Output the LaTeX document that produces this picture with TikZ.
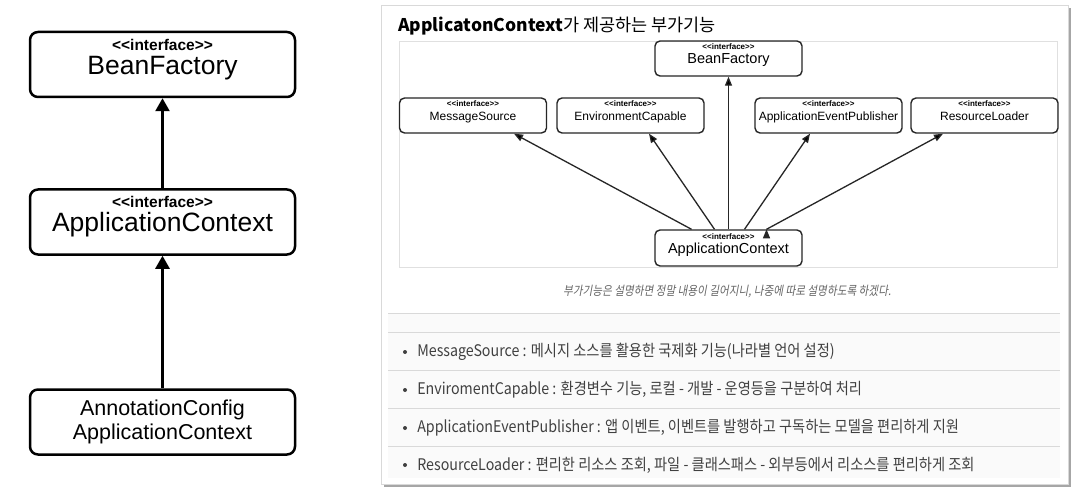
\documentclass[tikz,border=0pt]{standalone}
\usepackage{fontspec}
\setmainfont{Liberation Sans}
\newfontfamily\uml{Liberation Sans}
\newfontfamily\kr{Noto Sans CJK KR}
\newfontfamily\krn[FakeStretch=0.89]{Noto Sans CJK KR}
\newfontfamily\krit[FakeStretch=0.85,FakeSlant=0.18]{Noto Sans CJK KR}
\usetikzlibrary{arrows.meta, positioning, calc}
\newcommand{\fsz}[1]{\fontsize{#1}{#1}\selectfont}

\begin{document}
\begin{tikzpicture}[x=1pt,y=-1pt,semithick]
		\tikzstyle{bigbox}=[draw=black,line width=2.5pt,rounded corners=8pt,minimum width=265pt,minimum height=65pt,align=center,inner sep=0pt,font={\uml\fontsize{10}{24}\selectfont}]
		\tikzstyle{smallbox}=[draw=black!85,line width=1.4pt,rounded corners=5pt,minimum width=147pt,minimum height=35pt,align=center,inner sep=0pt,text depth=9pt,font={\uml\fontsize{8}{14}\selectfont}]
		\tikzstyle{bigarrow}=[-{Triangle[width=14pt,length=13pt]},line width=2.6pt]
		\tikzstyle{smallarrow}=[-{Triangle[width=7pt,length=9pt]},line width=1.3pt,draw=black!85]
		\tikzstyle{item}=[anchor=west,inner sep=0pt,font=\krn\fsz{16},text=black!75]
		
		\useasboundingbox (0,0) rectangle (1078,497);
		
		% left: hierarchy
		\node[bigbox,text depth=16pt] (BF) at (162.5,64.5) {{\fsz{15.5}\bfseries <<interface>>}\\{\fsz{26.5}BeanFactory}};
		\node[bigbox,text depth=16pt] (AC) [below of=BF, node distance=157.5pt] {{\fsz{15.5}\bfseries <<interface>>}\\{\fsz{26.5}ApplicationContext}};
		\node[bigbox] (ANN) [below of=AC, node distance=200pt] {{\fsz{21.5}AnnotationConfig}\\{\fsz{21.5}ApplicationContext}};
		
		\path[bigarrow] (AC) edge (BF)
		(ANN) edge (AC);
		
		% right: panel
		\fill[black!35] (384,8) rectangle (1071,487);
		\filldraw[fill=white,draw=black!15] (381,5) rectangle (1068,484);
		\draw[black!12] (399,41) rectangle (1057,267);
		\fill[black!2] (388,313) rectangle (1060,478);
		\foreach \y in {313,332,370,408,446}
			\draw[black!15] (388,\y) -- (1060,\y);
		
		\node[anchor=west,inner sep=0pt,font=\kr\fsz{17.5}] (T) at (398,26) {\textbf{ApplicatonContext}가 제공하는 부가기능};
		
		\node[smallbox] (RBF) at (728.5,58.5) {{\bfseries <<interface>>}\\{\fsz{14.5}BeanFactory}};
		\node[smallbox] (MS) at (473,115.5) {{\bfseries <<interface>>}\\{\fsz{12}MessageSource}};
		\node[smallbox] (EC) [right of=MS, node distance=157.5pt] {{\bfseries <<interface>>}\\{\fsz{12}EnvironmentCapable}};
		\node[smallbox] (AEP) [right of=EC, node distance=198pt] {{\bfseries <<interface>>}\\{\fsz{12}ApplicationEventPublisher}};
		\node[smallbox] (RL) [right of=AEP, node distance=156pt] {{\bfseries <<interface>>}\\{\fsz{12}ResourceLoader}};
		\node[smallbox,minimum height=36pt] (RAC) [below of=RBF, node distance=189.5pt] {{\bfseries <<interface>>}\\{\fsz{14.5}ApplicationContext}};
		
		\path[smallarrow] (RAC) edge (RBF)
		($(RAC.north)+(-37,0)$) edge ($(MS.south)+(41,0)$)
		($(RAC.north)+(-14,0)$) edge ($(EC.south)+(18.5,0)$)
		($(RAC.north)+(16,0)$) edge ($(AEP.south)+(-18.5,0)$)
		($(RAC.north)+(38,0)$) edge ($(RL.south)+(-41.5,0)$);
		
		\node[font=\krit\fsz{12.5},text=black!60] (CAP) at (727,292) {부가기능은 설명하면 정말 내용이 길어지니, 나중에 따로 설명하도록 하겠다.};
		
		% list
		\foreach \y in {352,390,428,465}
			\fill[black!75] (405,\y) circle (2);
		\node[item] (L1) at (417,352) {MessageSource : 메시지 소스를 활용한 국제화 기능(나라별 언어 설정)};
		\node[item] (L2) at (417,390) {EnviromentCapable : 환경변수 기능, 로컬 - 개발 - 운영등을 구분하여 처리};
		\node[item] (L3) at (417,428) {ApplicationEventPublisher : 앱 이벤트, 이벤트를 발행하고 구독하는 모델을 편리하게 지원};
		\node[item] (L4) at (417,465) {ResourceLoader : 편리한 리소스 조회, 파일 - 클래스패스 - 외부등에서 리소스를 편리하게 조회};
	\end{tikzpicture}
\end{document}
